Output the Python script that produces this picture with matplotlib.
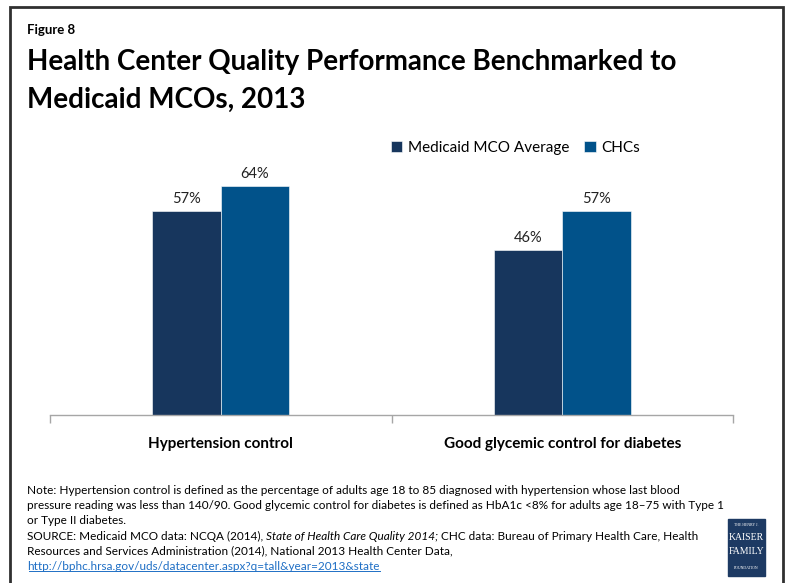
import matplotlib
matplotlib.use("Agg")
import matplotlib.pyplot as plt
import numpy as np
from matplotlib.patches import Rectangle
from matplotlib.lines import Line2D

categories = ["Hypertension control", "Good glycemic control for diabetes"]
series_names = ["Medicaid MCO Average", "CHCs"]
mco_avg = [57, 46]
chcs = [64, 57]
colors = ["#17365d", "#01528a"]

W, H = 786, 583
fig = plt.figure(figsize=(W / 100, H / 100), dpi=100)
plt.rcParams['font.family'] = ['Lato', 'DejaVu Sans']


def fx(px):
    return px / W


def fy(py):
    return 1 - py / H


# outer frame
fig.patches.append(Rectangle((fx(10), fy(590)), fx(773), fy(7) - fy(590),
                             transform=fig.transFigure, fill=False,
                             edgecolor="#303030", linewidth=2))

fig.text(fx(27), fy(30), "Figure 8", fontsize=9.5, fontweight="bold", va="center")
fig.text(fx(27), fy(62), "Health Center Quality Performance Benchmarked to",
         fontsize=20, fontweight="bold", va="center")
fig.text(fx(27), fy(100), "Medicaid MCOs, 2013",
         fontsize=20, fontweight="bold", va="center")

ax = fig.add_axes([fx(50), fy(415), fx(733) - fx(50), fy(164.5) - fy(415)])
x = np.arange(len(categories))
w = 0.2
b1 = ax.bar(x - w / 2, mco_avg, w, color=colors[0], label=series_names[0],
            edgecolor="white", linewidth=0.4)
b2 = ax.bar(x + w / 2, chcs, w, color=colors[1], label=series_names[1],
            edgecolor="white", linewidth=0.4)
for bars, vals in ((b1, mco_avg), (b2, chcs)):
    for r, v in zip(bars, vals):
        ax.text(r.get_x() + r.get_width() / 2, v + 3.4, f"{v}%",
                ha="center", va="center", fontsize=10.5, color="#222222")

ax.set_xlim(-0.5, 1.5)
ax.set_ylim(0, 70)
ax.set_yticks([])
for s in ("top", "right", "left"):
    ax.spines[s].set_visible(False)
ax.spines["bottom"].set_color("#a6a6a6")
ax.spines["bottom"].set_linewidth(1)
ax.set_xticks(x)
ax.set_xticklabels(categories, fontsize=11, fontweight="bold")
ax.tick_params(axis="x", which="major", length=0, pad=16)
ax.set_xticks([-0.5, 0.5, 1.5], minor=True)
ax.tick_params(axis="x", which="minor", length=6, color="#a6a6a6", width=1)

ax.legend(loc="center left", bbox_to_anchor=(fx(391), fy(148)),
          bbox_transform=fig.transFigure, ncol=2, frameon=False,
          fontsize=11, handlelength=0.75, handleheight=0.75,
          handletextpad=0.35, columnspacing=1.0, borderaxespad=0, borderpad=0)

note_lines = [
    "Note: Hypertension control is defined as the percentage of adults age 18 to 85 diagnosed with hypertension whose last blood",
    "pressure reading was less than 140/90. Good glycemic control for diabetes is defined as HbA1c <8% for adults age 18\u201375 with Type 1",
    "or Type II diabetes.",
]
nfont = dict(fontsize=8.5, family=["Lato", "DejaVu Sans"], va="center")
for i, line in enumerate(note_lines):
    fig.text(fx(27), fy(490 + 15.3 * i), line, **nfont)

y4 = fy(536)
t1 = fig.text(fx(27), y4, "SOURCE: Medicaid MCO data: NCQA (2014), ", **nfont)
fig.canvas.draw()
r = fig.canvas.get_renderer()
bb = t1.get_window_extent(r)
t2 = fig.text(bb.x1 / W, y4, "State of Health Care Quality 2014;", style="italic", **nfont)
bb = t2.get_window_extent(r)
fig.text(bb.x1 / W + fx(3), y4,
         "CHC data: Bureau of Primary Health Care, Health", **nfont)
fig.text(fx(27), fy(551), "Resources and Services Administration (2014), National 2013 Health Center Data,", **nfont)
link = fig.text(fx(27), fy(566.5), "http://bphc.hrsa.gov/uds/datacenter.aspx?q=tall&year=2013&state",
                color="#1f6fc5", **nfont)
fig.canvas.draw()
bb = link.get_window_extent(r)
fig.add_artist(Line2D([bb.x0 / W + 0.002, bb.x1 / W], [bb.y0 / H + 0.001, bb.y0 / H + 0.001],
                      transform=fig.transFigure, color="#1f6fc5", linewidth=0.7))

# logo
fig.patches.append(Rectangle((fx(728), fy(576)), fx(37), fy(519) - fy(576),
                             transform=fig.transFigure, color="#1d3a63"))
lx = fx(746.5)
sf = ["Liberation Serif", "DejaVu Serif"]
fig.text(lx, fy(525), "THE HENRY J.", color="white", fontsize=2.8, family=sf, ha="center", va="center")
fig.text(lx, fy(537), "KAISER", color="white", fontsize=7, family=sf, ha="center", va="center")
fig.text(lx, fy(552), "FAMILY", color="white", fontsize=7, family=sf, ha="center", va="center")
fig.text(lx, fy(568), "FOUNDATION", color="white", fontsize=2.8, family=sf, ha="center", va="center")

fig.savefig("out.png", dpi=100)
